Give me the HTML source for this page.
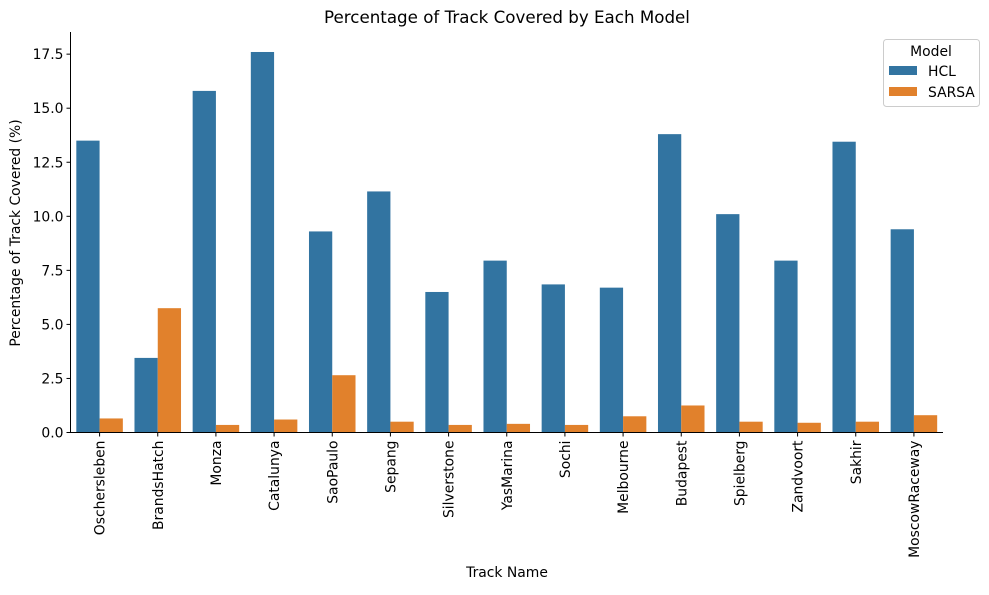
<!DOCTYPE html>
<html><head><meta charset="utf-8"><style>
body{margin:0;background:#fff;}
svg{font-family:"DejaVu Sans","Liberation Sans",sans-serif;}
</style></head><body>
<svg width="989" height="590" viewBox="0 0 989 590">
<text x="507" y="23" text-anchor="middle" font-size="16.7">Percentage of Track Covered by Each Model</text>
<g id="bars"></g>
<g id="axes"></g>
<text x="507" y="577" text-anchor="middle" font-size="13.9">Track Name</text>
<text transform="translate(20,233) rotate(-90)" text-anchor="middle" font-size="13.9">Percentage of Track Covered (%)</text>
<g>
<rect x="883.5" y="39.5" width="96" height="67" rx="3" fill="#fff" stroke="#ccc"/>
<text x="931" y="56" text-anchor="middle" font-size="13.9">Model</text>
<rect x="889" y="66" width="28" height="9" fill="#3274a1"/>
<text x="928" y="76" font-size="13.9">HCL</text>
<rect x="889" y="87" width="28" height="9" fill="#e1812c"/>
<text x="928" y="97" font-size="13.9">SARSA</text>
</g>
</svg>
<script>
const categories=["Oschersleben","BrandsHatch","Monza","Catalunya","SaoPaulo","Sepang","Silverstone","YasMarina","Sochi","Melbourne","Budapest","Spielberg","Zandvoort","Sakhir","MoscowRaceway"];
const hclValues=[13.5,3.45,15.8,17.6,9.3,11.15,6.5,7.95,6.85,6.7,13.8,10.1,7.95,13.45,9.4];
const sarsaValues=[0.65,5.75,0.35,0.6,2.65,0.5,0.35,0.4,0.35,0.75,1.25,0.5,0.45,0.5,0.8];
const yTicks=[0,2.5,5,7.5,10,12.5,15,17.5];
const yTickLabels=["0.0","2.5","5.0","7.5","10.0","12.5","15.0","17.5"];
const NS="http://www.w3.org/2000/svg";
const L=70.5,R=943,T=32,B=432.5;
const band=(R-L)/categories.length;
const y=v=>B-v*21.62;
const x=i=>L+band*(i+0.5);
function mk(t,a,p){const e=document.createElementNS(NS,t);for(const k in a)e.setAttribute(k,a[k]);p.appendChild(e);return e;}
const bars=document.getElementById('bars'),axes=document.getElementById('axes');
const bw=band*0.4;
categories.forEach((c,i)=>{
 const b1=mk('rect',{x:x(i)-bw,y:y(hclValues[i]),width:bw,height:B-y(hclValues[i]),fill:'#3274a1'},bars);
 
 
 const b2=mk('rect',{x:x(i),y:y(sarsaValues[i]),width:bw,height:B-y(sarsaValues[i]),fill:'#e1812c'},bars);
 
 
 const tk=mk('line',{x1:x(i),x2:x(i),y1:B,y2:B+4,stroke:'#000'},axes);
 
 
 const t=mk('text',{transform:`translate(${x(i)+5},${B+8}) rotate(-90)`,'text-anchor':'end','font-size':13.9},axes);
 t.textContent=c;
 
 
});
yTicks.forEach((v,i)=>{
 const tk=mk('line',{x1:L-4,x2:L,y1:y(v),y2:y(v),stroke:'#000'},axes);
 
 
 const t=mk('text',{x:L-7,y:y(v)+5,'text-anchor':'end','font-size':13.9},axes);
 t.textContent=yTickLabels[i];
 
 
});
const ya=mk('line',{x1:L,x2:L,y1:T,y2:B,stroke:'#000'},axes);


const xa=mk('line',{x1:L,x2:R,y1:B,y2:B,stroke:'#000'},axes);


</script>
</body></html>
